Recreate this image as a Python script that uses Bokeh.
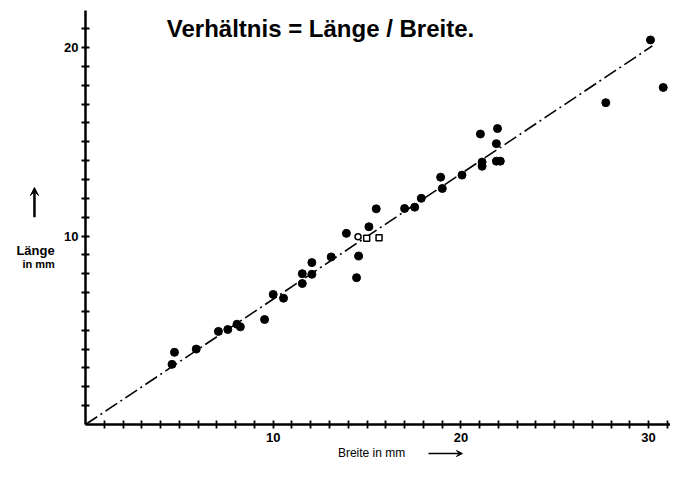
from bokeh.plotting import figure
from bokeh.models import Range1d, LinearAxis, FixedTicker, Label, Arrow, VeeHead
from bokeh.embed import file_html
from bokeh.resources import INLINE

# ---- data (Breite in mm, Länge in mm) ----
breite = [4.74, 4.61, 5.90, 7.08, 7.58, 8.07, 8.25, 9.54, 10.00, 10.55,
          11.55, 11.55, 12.06, 12.06, 13.09, 13.90, 14.55, 14.44, 15.10, 15.49,
          17.00, 17.54, 17.89, 18.92, 19.01, 20.06, 21.04, 21.13, 21.13, 21.95,
          21.89, 21.89, 22.10, 27.72, 30.10, 30.78]
laenge = [3.83, 3.19, 4.00, 4.94, 5.04, 5.32, 5.18, 5.57, 6.90, 6.70,
          8.00, 7.48, 8.59, 7.97, 8.89, 10.14, 8.94, 7.79, 10.49, 11.44,
          11.46, 11.53, 12.00, 13.12, 12.52, 13.23, 15.41, 13.92, 13.70, 15.70,
          14.90, 13.97, 13.97, 17.07, 20.40, 17.88]

open_circle_breite = [14.52]
open_circle_laenge = [9.96]
open_square_breite = [14.98, 15.64]
open_square_laenge = [9.88, 9.91]

verhaeltnis = 0.665          # slope of the dash-dot line
fit_breite = [0.0, 30.2]
fit_laenge = [verhaeltnis * b for b in fit_breite]

x_ticks = list(range(1, 32))
x_tick_labels = {10: "10", 20: "20", 30: "30"}
y_ticks = list(range(1, 22))
y_tick_labels = {10: "10", 20: "20"}

title_text = "Verhältnis = Länge / Breite."
y_label_1 = "Länge"
y_label_2 = "in mm"
x_label = "Breite in mm"
font = "Liberation Sans"

W, H = 670, 462
ox, oy = 85.0, 424.0          # pixel position of origin
sx, sy = 18.77, 18.85         # pixels per mm

p = figure(width=W, height=H,
           x_range=Range1d(-ox / sx, (W - ox) / sx),
           y_range=Range1d(-(H - oy) / sy, oy / sy),
           output_backend="svg", toolbar_location=None,
           x_axis_location=None, y_axis_location=None, min_border=0)
p.outline_line_color = None
p.grid.visible = False
p.background_fill_color = "white"
p.border_fill_color = "white"

axis_style = dict(axis_line_width=2.5, axis_line_color="black",
                  major_tick_in=4, major_tick_out=4, minor_tick_in=0, minor_tick_out=0,
                  major_tick_line_width=1.8, major_tick_line_color="black",
                  major_label_text_font=font, major_label_text_font_size="13px",
                  major_label_text_font_style="bold", major_label_text_color="black",
                  fixed_location=0)

xaxis = LinearAxis(ticker=FixedTicker(ticks=x_ticks),
                   major_label_overrides={t: x_tick_labels.get(t, "") for t in x_ticks},
                   major_label_standoff=4, bounds=(0, (W - ox) / sx), **axis_style)
yaxis = LinearAxis(ticker=FixedTicker(ticks=y_ticks),
                   major_label_overrides={t: y_tick_labels.get(t, "") for t in y_ticks},
                   major_label_standoff=3, bounds=(0, 21.95), **axis_style)
p.add_layout(xaxis, "below")
p.add_layout(yaxis, "left")

# dash-dot ratio line
p.line(fit_breite, fit_laenge, line_color="black", line_width=1.6,
       line_dash="14 4 2 4")

# data points
p.scatter(breite, laenge, size=8, marker="circle", fill_color="black",
          line_color="black")
p.scatter(open_circle_breite, open_circle_laenge, size=6, marker="circle",
          fill_color="white", line_color="black", line_width=1.5)
p.scatter(open_square_breite, open_square_laenge, size=6, marker="square",
          fill_color="white", line_color="black", line_width=1.5)

# title
p.add_layout(Label(x=12.52, y=21.0, text=title_text, text_align="center",
                   text_baseline="alphabetic", text_font=font,
                   text_font_size="24px", text_font_style="bold",
                   text_color="black"))

# y label with arrow
p.add_layout(Arrow(end=VeeHead(size=8, fill_color="black", line_color="black"),
                   x_start=-2.72, y_start=11.0, x_end=-2.72, y_end=12.57,
                   line_width=2.5, line_color="black"))
p.add_layout(Label(x=-2.66, y=9.23, text=y_label_1, text_align="center",
                   text_baseline="middle", text_font=font, text_font_size="13px",
                   text_font_style="bold", text_color="black"))
p.add_layout(Label(x=-2.50, y=8.49, text=y_label_2, text_align="center",
                   text_baseline="middle", text_font=font, text_font_size="11px",
                   text_font_style="bold", text_color="black"))

# x label with arrow
p.add_layout(Label(x=15.24, y=-1.49, text=x_label, text_align="center",
                   text_baseline="middle", text_font=font, text_font_size="12px",
                   text_color="black"))
p.add_layout(Arrow(end=VeeHead(size=6, fill_color="black", line_color="black"),
                   x_start=18.27, y_start=-1.54, x_end=20.08, y_end=-1.54,
                   line_width=1.5, line_color="black"))

open("out.html", "w").write(file_html(p, INLINE))
